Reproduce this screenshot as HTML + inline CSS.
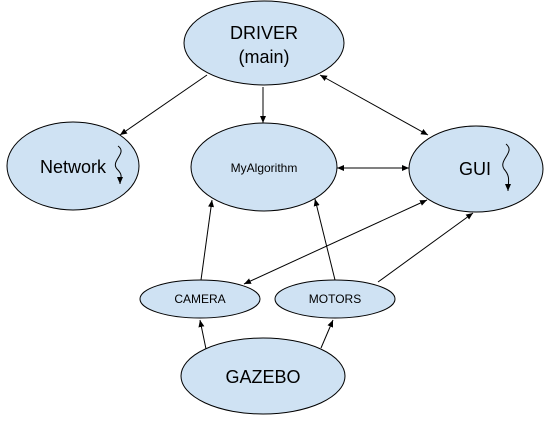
<!DOCTYPE html>
<html><head><style>body{margin:0;background:#fff}svg{display:block}</style></head><body>
<svg width="558" height="427" xmlns="http://www.w3.org/2000/svg" font-family="Liberation Sans, Arial, sans-serif">
<defs><marker id="a" markerWidth="8" markerHeight="8" refX="7" refY="4" orient="auto-start-reverse" markerUnits="userSpaceOnUse"><path d="M0,1 L7,4 L0,7 z" fill="#000"/></marker></defs>
<g fill="#cfe2f3" stroke="#000" stroke-width="1">
<ellipse cx="264" cy="43" rx="80" ry="42"/>
<ellipse cx="73" cy="166" rx="66" ry="44"/>
<ellipse cx="264" cy="167" rx="73" ry="44"/>
<ellipse cx="476" cy="169" rx="67" ry="43"/>
<ellipse cx="200" cy="299" rx="60" ry="19"/>
<ellipse cx="335" cy="299" rx="60" ry="19"/>
<ellipse cx="263" cy="376" rx="82" ry="38"/>
</g>
<g stroke="#000" stroke-width="1" fill="none">
<line x1="207" y1="75" x2="120" y2="135" marker-end="url(#a)"/>
<line x1="263" y1="87" x2="263" y2="123" marker-end="url(#a)"/>
<line x1="320" y1="75" x2="428" y2="135" marker-start="url(#a)" marker-end="url(#a)"/>
<line x1="337" y1="168" x2="409" y2="168" marker-start="url(#a)" marker-end="url(#a)"/>
<line x1="201" y1="280" x2="212" y2="200" marker-end="url(#a)"/>
<line x1="335" y1="280" x2="315" y2="199" marker-end="url(#a)"/>
<line x1="244" y1="284" x2="427" y2="200" marker-start="url(#a)" marker-end="url(#a)"/>
<line x1="378" y1="282" x2="473" y2="213" marker-end="url(#a)"/>
<line x1="206" y1="349" x2="200" y2="320" marker-end="url(#a)"/>
<line x1="321" y1="348" x2="333" y2="320" marker-end="url(#a)"/>
<path d="M118,146 C128,153 110,161 117,169 C124,176 120,178 120,184" marker-end="url(#a)"/>
<path d="M506,144 C516,152 498,160 504,169 C511,177 508,182 508,191" marker-end="url(#a)"/>
</g>
<g fill="#000" text-anchor="middle">
<text x="264" y="39" font-size="18">DRIVER</text>
<text x="264" y="63" font-size="18">(main)</text>
<text x="73" y="173" font-size="18">Network</text>
<text x="264" y="172" font-size="12">MyAlgorithm</text>
<text x="475" y="175" font-size="18">GUI</text>
<text x="200" y="303" font-size="12">CAMERA</text>
<text x="335" y="303" font-size="12">MOTORS</text>
<text x="263" y="383" font-size="18">GAZEBO</text>
</g>
</svg>
</body></html>
